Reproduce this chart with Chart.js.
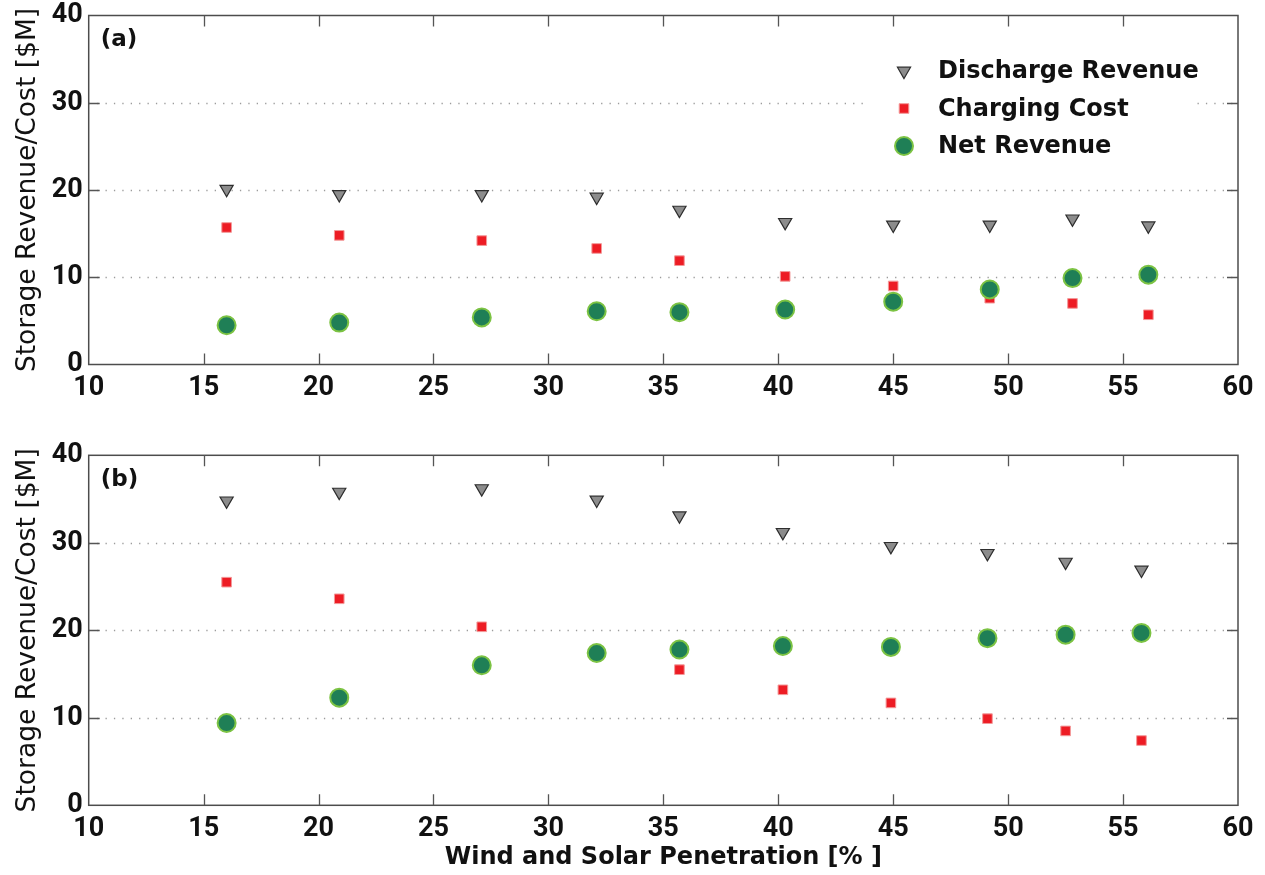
<!DOCTYPE html>
<html><head><meta charset="utf-8">
<script src="https://cdn.jsdelivr.net/npm/chart.js@4.4.1/dist/chart.umd.min.js"></script>
<style>
html,body{margin:0;padding:0;background:#fff;width:1265px;height:875px;overflow:hidden}
.wrap{position:absolute;left:0;width:1265px}
#wa{top:0;height:440px}
#wb{top:440px;height:435px}
</style></head><body>
<div class="wrap" id="wa"><canvas id="ca" width="1265" height="440"></canvas></div>
<div class="wrap" id="wb"><canvas id="cb" width="1265" height="435"></canvas></div>
<script>
// ---- data ----
const penetrationA = [16.0, 20.9, 27.1, 32.1, 35.7, 40.3, 45.0, 49.2, 52.8, 56.1];
const dischargeA   = [20.1, 19.5, 19.5, 19.2, 17.7, 16.3, 16.0, 16.0, 16.7, 15.9];
const chargingA    = [15.7, 14.8, 14.2, 13.3, 11.9, 10.1, 9.0, 7.6, 7.0, 5.7];
const netA         = [4.5, 4.8, 5.4, 6.1, 6.0, 6.3, 7.2, 8.6, 9.9, 10.3];

const penetrationB = [16.0, 20.9, 27.1, 32.1, 35.7, 40.2, 44.9, 49.1, 52.5, 55.8];
const dischargeB   = [34.8, 35.8, 36.2, 34.9, 33.1, 31.2, 29.6, 28.8, 27.8, 26.9];
const chargingB    = [25.5, 23.6, 20.4, 17.5, 15.5, 13.2, 11.7, 9.9, 8.5, 7.4];
const netB         = [9.4, 12.3, 16.0, 17.4, 17.8, 18.2, 18.1, 19.1, 19.5, 19.7];

const xTicks = [10, 15, 20, 25, 30, 35, 40, 45, 50, 55, 60];
const yTicks = [0, 10, 20, 30, 40];
const seriesNames = ['Discharge Revenue', 'Charging Cost', 'Net Revenue'];
const panelLabels = ['(a)', '(b)'];
const yTitle = 'Storage Revenue/Cost [$M]';
const xTitle = 'Wind and Solar Penetration [% ]';

const TICKFONT = 'Roboto, "Liberation Sans", sans-serif';
const TEXTFONT = '"DejaVu Sans", Verdana, sans-serif';

function pts(xs, ys) { return xs.map((v, i) => ({x: v, y: ys[i]})); }

const styleDischarge = {pointStyle: 'triangle', rotation: 180, pointRadius: 7.6, pointBackgroundColor: '#8c8c8c', pointBorderColor: '#2e2e2e', pointBorderWidth: 1.2, order: 2};
const styleCharging  = {pointStyle: 'rect', pointRadius: 6.8, pointBackgroundColor: '#ed1c24', pointBorderColor: '#f39a9a', pointBorderWidth: 1, order: 1};
const styleNet       = {pointStyle: 'circle', pointRadius: 9, pointBackgroundColor: '#1f7f56', pointBorderColor: '#7cc343', pointBorderWidth: 2, order: 0};

function makeDatasets(xs, d, c, n) {
  return [
    Object.assign({label: seriesNames[0], data: pts(xs, d), showLine: false}, styleDischarge),
    Object.assign({label: seriesNames[1], data: pts(xs, c), showLine: false}, styleCharging),
    Object.assign({label: seriesNames[2], data: pts(xs, n), showLine: false}, styleNet)
  ];
}

function drawMarker(ctx, ds, x, y) {
  ctx.save();
  ctx.fillStyle = ds.pointBackgroundColor;
  ctx.strokeStyle = ds.pointBorderColor;
  ctx.lineWidth = ds.pointBorderWidth;
  const r = ds.pointRadius;
  ctx.beginPath();
  if (ds.pointStyle === 'triangle') {
    let rad = Math.PI;
    ctx.moveTo(x + Math.sin(rad) * r, y - Math.cos(rad) * r);
    rad += 2 * Math.PI / 3;
    ctx.lineTo(x + Math.sin(rad) * r, y - Math.cos(rad) * r);
    rad += 2 * Math.PI / 3;
    ctx.lineTo(x + Math.sin(rad) * r, y - Math.cos(rad) * r);
    ctx.closePath();
  } else if (ds.pointStyle === 'rect') {
    const s = Math.SQRT1_2 * r;
    ctx.rect(x - s, y - s, 2 * s, 2 * s);
  } else {
    ctx.arc(x, y, r, 0, Math.PI * 2);
  }
  ctx.fill();
  ctx.stroke();
  ctx.restore();
}

function framePlugin(label, showLegend) {
  return {
    id: 'frame',
    beforeDatasetsDraw(chart) {
      const {ctx, chartArea: a, scales: {y}} = chart;
      ctx.save();
      ctx.strokeStyle = '#9c9c9c';
      ctx.lineWidth = 1.3;
      ctx.setLineDash([1.3, 7.1]);
      yTicks.forEach(v => {
        if (v === y.min || v === y.max) return;
        const py = Math.round(y.getPixelForValue(v)) + 0.5;
        ctx.beginPath(); ctx.moveTo(a.left, py); ctx.lineTo(a.right, py); ctx.stroke();
      });
      ctx.restore();
    },
    afterDatasetsDraw(chart) {
      const {ctx, chartArea: a, scales: {x, y}} = chart;
      ctx.save();
      ctx.strokeStyle = '#4d4d4d';
      ctx.lineWidth = 1.5;
      ctx.strokeRect(a.left, a.top, a.right - a.left, a.bottom - a.top);
      const tl = 11;
      ctx.lineWidth = 1.3;
      ctx.strokeStyle = '#555';
      xTicks.forEach(v => {
        if (v === x.min || v === x.max) return;
        const px = Math.round(x.getPixelForValue(v)) + 0.5;
        ctx.beginPath();
        ctx.moveTo(px, a.bottom); ctx.lineTo(px, a.bottom - tl);
        ctx.moveTo(px, a.top); ctx.lineTo(px, a.top + tl);
        ctx.stroke();
      });
      yTicks.forEach(v => {
        if (v === y.min || v === y.max) return;
        const py = Math.round(y.getPixelForValue(v)) + 0.5;
        ctx.beginPath();
        ctx.moveTo(a.left, py); ctx.lineTo(a.left + tl, py);
        ctx.moveTo(a.right, py); ctx.lineTo(a.right - tl, py);
        ctx.stroke();
      });
      // panel label
      ctx.fillStyle = '#111';
      ctx.font = 'bold 23px ' + TEXTFONT;
      ctx.textBaseline = 'middle';
      ctx.textAlign = 'left';
      ctx.fillText(label, a.left + 12, a.top + 25);
      if (showLegend) {
        ctx.fillStyle = '#fff';
        ctx.fillRect(866, 50, 331, 118);
        const rows = [71, 108.5, 146];
        ctx.font = 'bold 24px ' + TEXTFONT;
        chart.data.datasets.forEach((ds, i) => {
          drawMarker(ctx, ds, 904, rows[i]);
          ctx.fillStyle = '#111';
          ctx.fillText(ds.label, 938, rows[i] + 1);
        });
      }
      ctx.restore();
    }
  };
}

function makeChart(id, xs, d, c, n, label, showLegend, xAxisH, showXTitle, padTop) {
  return new Chart(document.getElementById(id), {
    type: 'scatter',
    data: {datasets: makeDatasets(xs, d, c, n)},
    options: {
      responsive: false, animation: false, devicePixelRatio: 1,
      layout: {padding: {left: 0, right: 27, top: padTop, bottom: 0}},
      plugins: {legend: {display: false}, tooltip: {enabled: false}},
      scales: {
        x: {
          type: 'linear', min: 10, max: 60,
          afterBuildTicks: s => { s.ticks = xTicks.map(v => ({value: v})); },
          afterFit: s => { s.height = xAxisH; s.paddingLeft = 0; s.paddingRight = 0; },
          grid: {display: false, drawTicks: false},
          border: {display: false},
          ticks: {padding: 8, color: '#111', font: {family: TICKFONT, weight: 'bold', size: 27}, maxRotation: 0, autoSkip: false},
          title: {display: showXTitle, text: xTitle, color: '#111', font: {family: TEXTFONT, weight: 'bold', size: 24}, padding: {top: 0, bottom: 3}}
        },
        y: {
          type: 'linear', min: 0, max: 40,
          afterBuildTicks: s => { s.ticks = yTicks.map(v => ({value: v})); },
          afterFit: s => { s.width = 88.7; s.paddingTop = 0; s.paddingBottom = 0; },
          grid: {display: false, drawTicks: false},
          border: {display: false},
          ticks: {padding: 6, color: '#111', font: {family: TICKFONT, weight: 'bold', size: 27}},
          title: {display: true, text: yTitle, color: '#111', font: {family: TEXTFONT, weight: 'normal', size: 26.5}, padding: {top: 12, bottom: 0}}
        }
      }
    },
    plugins: [framePlugin(label, showLegend)]
  });
}

makeChart('ca', penetrationA, dischargeA, chargingA, netA, panelLabels[0], true, 75.5, false, 15.5);
makeChart('cb', penetrationB, dischargeB, chargingB, netB, panelLabels[1], false, 69.7, true, 15.3);
</script>
</body></html>
